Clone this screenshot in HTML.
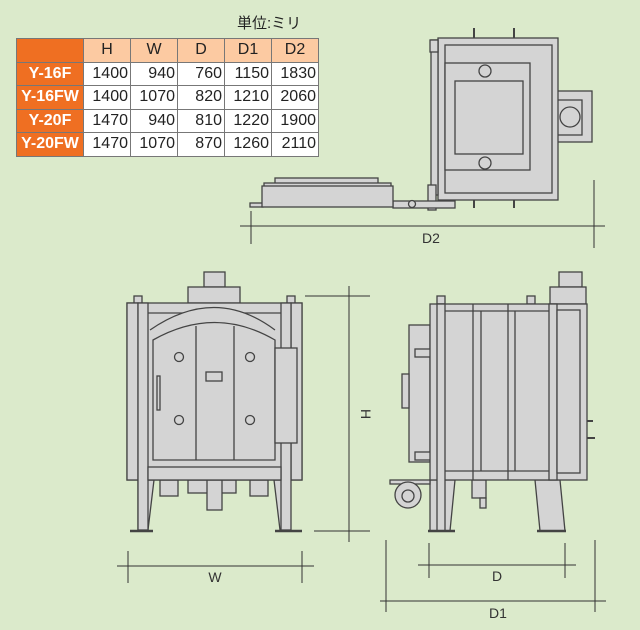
<!DOCTYPE html>
<html><head><meta charset="utf-8"><style>
html,body{margin:0;padding:0;background:#dbeacb;}
body{width:640px;height:630px;position:relative;overflow:hidden;font-family:"Liberation Sans","Noto Sans CJK JP",sans-serif;}
table{position:absolute;left:16px;top:38px;border-collapse:collapse;font-size:16px;}
td{border:1px solid #777;height:22.5px;padding:0 2px;text-align:right;background:#fff;color:#222;}
td.h{background:#fccaa2;text-align:center;}
td.m{background:#ef6f22;color:#fff;font-weight:bold;text-align:center;}
</style></head><body>
<div style="position:absolute;left:237px;top:12px;font-size:15px;color:#222">単位:ミリ</div>
<table>
<tr><td class="m" style="width:62px"></td><td class="h" style="width:42px">H</td><td class="h" style="width:42px">W</td><td class="h" style="width:42px">D</td><td class="h" style="width:42px">D1</td><td class="h" style="width:42px">D2</td></tr>
<tr><td class="m">Y-16F</td><td>1400</td><td>940</td><td>760</td><td>1150</td><td>1830</td></tr>
<tr><td class="m">Y-16FW</td><td>1400</td><td>1070</td><td>820</td><td>1210</td><td>2060</td></tr>
<tr><td class="m">Y-20F</td><td>1470</td><td>940</td><td>810</td><td>1220</td><td>1900</td></tr>
<tr><td class="m">Y-20FW</td><td>1470</td><td>1070</td><td>870</td><td>1260</td><td>2110</td></tr>
</table>
<svg width="640" height="630" style="position:absolute;left:0;top:0" fill="#d4d4d4" stroke="#444" stroke-width="1.3">
<g>
<line x1="474" y1="28" x2="474" y2="208" stroke-width="2"/><line x1="514" y1="28" x2="514" y2="208" stroke-width="2"/>
<rect x="552" y="91" width="40" height="51"/><rect x="557" y="100" width="25" height="35"/><circle cx="570" cy="117" r="10"/>
<rect x="438" y="38" width="120" height="162"/>
<rect x="445" y="45" width="107" height="148"/>
<rect x="445" y="63" width="85" height="107"/>
<rect x="455" y="81" width="68" height="73"/>
<circle cx="485" cy="71" r="6"/><circle cx="485" cy="163" r="6"/>
<rect x="431" y="40" width="7" height="155"/><rect x="430" y="40" width="8" height="12"/>
<rect x="428" y="185" width="8" height="25"/>
<rect x="393" y="201" width="62" height="7"/><circle cx="412" cy="204" r="3.5"/>
<rect x="250" y="203" width="13" height="4"/>
<rect x="275" y="178" width="103" height="8"/>
<rect x="264" y="183" width="127" height="5"/>
<rect x="262" y="186" width="131" height="21"/>
</g>
<g>
<rect x="204" y="272" width="21" height="15"/><rect x="188" y="287" width="52" height="16"/>
<rect x="134" y="296" width="8" height="8"/><rect x="287" y="296" width="8" height="8"/>
<rect x="160" y="480" width="18" height="16"/><rect x="250" y="480" width="18" height="16"/>
<rect x="188" y="480" width="48" height="13"/><rect x="207" y="480" width="15" height="30"/>
<path d="M138 480 L154 480 L148 530 L138 530Z"/><path d="M290 480 L274 480 L280 530 L290 530Z"/>
<rect x="127" y="303" width="175" height="177"/>
<rect x="127" y="303" width="11" height="177"/><rect x="138" y="303" width="10" height="227"/>
<rect x="291" y="303" width="11" height="177"/><rect x="281" y="303" width="10" height="227"/>
<line x1="148" y1="313" x2="281" y2="313"/>
<path d="M150 330 Q215 285 275 330"/>
<path d="M153 340 L153 460 L275 460 L275 340 Q215 305 153 340Z"/>
<line x1="196" y1="326" x2="196" y2="460"/><line x1="234" y1="326" x2="234" y2="460"/>
<rect x="148" y="467" width="133" height="13"/>
<rect x="275" y="348" width="22" height="95"/>
<circle cx="179" cy="357" r="4.5"/><circle cx="250" cy="357" r="4.5"/><circle cx="179" cy="420" r="4.5"/><circle cx="250" cy="420" r="4.5"/>
<rect x="206" y="372" width="16" height="9"/><rect x="157" y="376" width="3" height="34"/>
<line x1="130" y1="531" x2="153" y2="531" stroke-width="2.5"/><line x1="275" y1="531" x2="302" y2="531" stroke-width="2.5"/>
</g>
<g>
<rect x="559" y="272" width="23" height="15"/><rect x="550" y="287" width="36" height="17"/>
<rect x="437" y="296" width="8" height="8"/><rect x="527" y="296" width="8" height="8"/>
<path d="M430 480 L455 480 L450 531 L430 531Z"/><path d="M535 480 L560 480 L565 531 L540 531Z"/>
<rect x="472" y="480" width="14" height="18"/><rect x="480" y="498" width="6" height="10"/>
<rect x="390" y="480" width="40" height="4"/><circle cx="408" cy="495" r="13"/><circle cx="408" cy="496" r="6"/>
<rect x="409" y="325" width="21" height="137"/><rect x="402" y="374" width="7" height="34"/>
<rect x="415" y="349" width="23" height="8"/><rect x="415" y="452" width="23" height="8"/>
<rect x="430" y="304" width="157" height="176"/>
<rect x="437" y="304" width="8" height="227"/>
<line x1="445" y1="311" x2="550" y2="311"/><line x1="445" y1="471" x2="550" y2="471"/>
<line x1="473" y1="304" x2="473" y2="480"/><line x1="481" y1="311" x2="481" y2="471"/>
<line x1="508" y1="304" x2="508" y2="480"/><line x1="515" y1="311" x2="515" y2="471"/>
<rect x="549" y="304" width="8" height="176"/><rect x="557" y="310" width="23" height="163"/>
<line x1="587" y1="421" x2="593" y2="421" stroke-width="2"/><line x1="587" y1="438" x2="595" y2="438" stroke-width="2"/>
<line x1="428" y1="531" x2="455" y2="531" stroke-width="2.5"/><line x1="537" y1="531" x2="566" y2="531" stroke-width="2.5"/>
</g>
<g stroke="#333" stroke-width="1" fill="none">
<line x1="240" y1="226" x2="605" y2="226"/><line x1="251" y1="211" x2="251" y2="244"/><line x1="594" y1="180" x2="594" y2="248"/>
<line x1="349" y1="286" x2="349" y2="542"/><line x1="305" y1="296" x2="370" y2="296"/><line x1="314" y1="531" x2="370" y2="531"/>
<line x1="117" y1="566" x2="314" y2="566"/><line x1="128" y1="551" x2="128" y2="583"/><line x1="302" y1="551" x2="302" y2="583"/>
<line x1="418" y1="565" x2="576" y2="565"/><line x1="429" y1="543" x2="429" y2="578"/><line x1="565" y1="543" x2="565" y2="578"/>
<line x1="380" y1="601" x2="606" y2="601"/><line x1="386" y1="540" x2="386" y2="612"/><line x1="595" y1="540" x2="595" y2="612"/>
</g>
<g fill="#333" stroke="none" font-family="Liberation Sans, sans-serif" font-size="14" text-anchor="middle">
<text x="431" y="243">D2</text><text x="215" y="582">W</text><text x="497" y="581">D</text><text x="498" y="618">D1</text>
<text x="0" y="0" transform="translate(361,414) rotate(90)">H</text>
</g>
</svg>
</body></html>
